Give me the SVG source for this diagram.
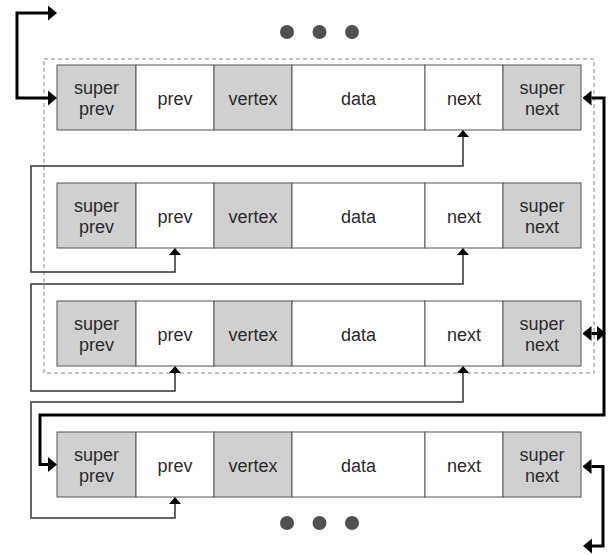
<svg xmlns="http://www.w3.org/2000/svg" width="611" height="555" viewBox="0 0 611 555">
<style>
.g{fill:#d0d0d0;stroke:#555;stroke-width:1}
.w{fill:#fff;stroke:#555;stroke-width:1}
text{font-family:"Liberation Sans",Arial,sans-serif;font-size:18px;fill:#2a2a2a;text-anchor:middle}
.thin{fill:none;stroke:#333;stroke-width:1.5;marker-start:url(#ta);marker-end:url(#ta)}
.thick{fill:none;stroke:#000;stroke-width:3;marker-start:url(#ka);marker-end:url(#ka)}
.dot{fill:#505050}
</style>
<defs>
<marker id="ta" markerUnits="userSpaceOnUse" markerWidth="7" markerHeight="12" refX="0" refY="6" orient="auto-start-reverse" viewBox="0 0 7 12"><path d="M0,0 L7,6 L0,12 z" fill="#000"/></marker>
<marker id="ka" markerUnits="userSpaceOnUse" markerWidth="9" markerHeight="15" refX="0" refY="7.5" orient="auto-start-reverse" viewBox="0 0 9 15"><path d="M0,0 L9,7.5 L0,15 z" fill="#000"/></marker>
<g id="row">
<rect class="g" x="57" y="0" width="79" height="65"/>
<rect class="w" x="136" y="0" width="78" height="65"/>
<rect class="g" x="214" y="0" width="78" height="65"/>
<rect class="w" x="292" y="0" width="133" height="65"/>
<rect class="w" x="425" y="0" width="78" height="65"/>
<rect class="g" x="503" y="0" width="78" height="65"/>
<text x="96.5" y="28.5">super</text>
<text x="96.5" y="50">prev</text>
<text x="175" y="39.5">prev</text>
<text x="253" y="39.5">vertex</text>
<text x="358.5" y="39.5">data</text>
<text x="464" y="39.5">next</text>
<text x="542" y="28.5">super</text>
<text x="542" y="50">next</text>
</g>
</defs>
<rect id="frame" x="44" y="59" width="550" height="314" fill="none" stroke="#888" stroke-width="1" stroke-dasharray="4,3"/>
<g id="dots-top"><circle class="dot" cx="287" cy="32" r="7"/><circle class="dot" cx="319.5" cy="32" r="7"/><circle class="dot" cx="352" cy="32" r="7"/></g>
<g id="node1"><use href="#row" y="65"/></g>
<g id="node2"><use href="#row" y="183"/></g>
<g id="node3"><use href="#row" y="301"/></g>
<g id="node4"><use href="#row" y="432"/></g>
<g id="dots-bottom"><circle class="dot" cx="287" cy="523" r="7"/><circle class="dot" cx="319.5" cy="523" r="7"/><circle class="dot" cx="352" cy="523" r="7"/></g>
<g id="connectors">
<path class="thin" d="M463,137 V166 H31 V272 H175 V255"/>
<path class="thin" d="M463,255 V284 H31 V391 H175 V373"/>
<path class="thin" d="M463,373 V402 H31 V518 H175 V504"/>
<path class="thick" d="M48,13 H17 V98 H48"/>
<path class="thick" d="M591.5,98 H604 V415 H40 V464.5 H48"/>
<path class="thick" d="M591.5,333.5 H597"/>
<path class="thick" d="M591.5,466.5 H603 V546 H592"/>
</g>
</svg>
